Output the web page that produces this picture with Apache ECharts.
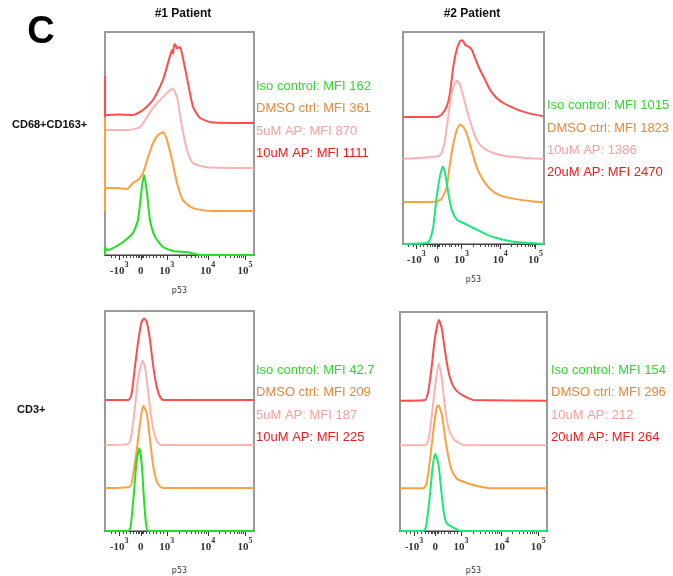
<!DOCTYPE html>
<html>
<head>
<meta charset="utf-8">
<script src="https://cdn.jsdelivr.net/npm/echarts@6/dist/echarts.min.js"></script>
<style>
  html, body { margin: 0; padding: 0; background: #fff; }
  #fig { width: 673px; height: 576px; }
</style>
</head>
<body>
<div id="fig"></div>
<script>
// logicle-like display scale: 0..100 along the axis
var majorTicks = [9.5, 24, 41.5, 69, 94];
var tickBase = ['-10', '0', '10', '10', '10'];
var tickExp = ['3', '', '3', '4', '5'];
var minorTicks = [4, 7, 12, 14.5, 17, 19, 21, 22, 23, 25, 26, 28, 30, 32.5, 34.5, 37, 39,
  49.8, 54.6, 58, 60.7, 62.9, 64.7, 66.3, 67.7, 76.5, 80.9, 84, 86.5, 88.5, 90.1, 91.6, 92.9];

var sampleNames = ['Iso control', 'DMSO ctrl', 'low AP', 'high AP'];

// legend texts per panel
var p1Labels = ['Iso control: MFI 162', 'DMSO ctrl: MFI 361', '5uM AP: MFI 870', '10uM AP: MFI 1111'];
var p2Labels = ['Iso control: MFI 1015', 'DMSO ctrl: MFI 1823', '10uM AP: 1386', '20uM AP: MFI 2470'];
var p3Labels = ['Iso control: MFI 42.7', 'DMSO ctrl: MFI 209', '5uM AP: MFI 187', '10uM AP: MFI 225'];
var p4Labels = ['Iso control: MFI 154', 'DMSO ctrl: MFI 296', '10uM AP: 212', '20uM AP: MFI 264'];

// histograms: [p53 display position, relative count]
var p1Green = [[0,0],[0,3.6],[1.3,2.2],[5.4,3.1],[12.1,5.8],[18.8,9.9],[22.1,15.7],[24.8,30.5],[26.2,35.9],[28.2,27.8],[30.2,15.7],[33.6,8.1],[38.9,3.6],[45.6,1.8],[55,1.3],[63.8,0],[100,0]];
var p1Orange = [[0,0],[0,42.2],[0.7,10.3],[8.1,10.3],[14.8,9.9],[18.8,12.6],[22.1,13.9],[25.5,17],[28.9,24.2],[32.2,30.5],[35.6,34.1],[38.9,35.4],[41.6,31.8],[45,22.9],[48.3,12.6],[52.3,4.9],[59.1,1.3],[72.5,0],[100,0]];
var p1Pink = [[0,0],[0,22],[0.7,17],[14.8,17],[23.5,18.4],[30.2,25.1],[34.9,29.1],[38.9,31.8],[42.3,34.1],[45.6,35.4],[48.3,31.8],[51.7,18.4],[55,8.1],[59.1,2.2],[68.5,0.4],[100,0]];
var p1Red = [[0,0],[0,21.1],[0.7,3.6],[10,3.8],[18.8,3.6],[25.5,5.8],[32.2,10.3],[38.9,19.3],[42.3,26.9],[45,32.7],[45.6,31],[46.3,34.5],[47,35.4],[48.3,33.5],[50.3,34.1],[52.3,29.1],[55.7,17.9],[59.1,7.2],[63.8,2.2],[72.5,0.2],[100,0]];

var p2Green = [[0,0],[16.8,0.5],[19.1,2],[21.5,8.3],[23.9,22.5],[26.2,31.9],[28.1,36.6],[29.8,33.5],[32.1,24.1],[34.5,16.2],[38.1,11.5],[42.8,9.9],[47.5,8.3],[52.2,6.8],[59.3,4.4],[66.4,2.8],[73.5,1.7],[83,0.8],[100,0]];
var p2Orange = [[0,0],[23.9,0.3],[27.4,1.6],[31,7.1],[33.3,18.1],[35.7,27.5],[38.1,33.8],[40.4,36.6],[42.8,35.4],[45.2,32.2],[48.7,24.4],[52.2,16.5],[57,10.2],[61.7,6.3],[68.8,3.1],[78.3,1.6],[92.5,0.3],[100,0]];
var p2Pink = [[0,0],[25,1.3],[27.4,2.8],[29.8,9.1],[32.1,20.1],[34.5,31.1],[36.9,35.8],[38.5,36.9],[40.4,35.1],[42.8,29.6],[45.2,23.3],[48.7,15.4],[52.2,9.1],[57,5.2],[64.1,2.8],[73.5,1.3],[87.7,0.5],[100,0]];
var p2Red = [[0,0],[23.9,0],[27.4,1.1],[31,5],[33.3,11.3],[35.7,23.9],[38.1,31.8],[40.4,35.7],[42.3,36.2],[44,34.1],[46.3,33.3],[48.7,31.8],[51.1,27.8],[54.6,22.3],[58.2,17.6],[61.7,12.9],[66.4,9],[71.2,6.6],[75.9,5],[83,3],[90.1,1.6],[100,0.3]];

var p3Green = [[0,0],[15.7,0],[17.2,2],[19,14.1],[21.3,32.3],[23,37.6],[24.6,30.8],[26.2,14.1],[27.5,3.5],[29.1,0],[100,0]];
var p3Orange = [[0,0],[16.8,0.8],[19,6.8],[21.3,17.4],[23.5,29.5],[25.7,37.4],[28,34.1],[30.2,22],[32.4,9.8],[34.7,3],[36.9,0.8],[39.1,0],[100,0]];
var p3Pink = [[0,0],[15.7,0.5],[17.9,5.3],[20.1,17.4],[22.4,31.1],[25.3,38.3],[26.8,35.6],[29.1,23.5],[31.3,11.4],[33.6,3.8],[35.8,0.8],[38,0],[100,0]];
var p3Red = [[0,0],[15.7,0],[17.9,3],[20.1,15.2],[22.4,27.3],[24.6,35.6],[26.2,37.1],[28,35.6],[30.2,27.3],[32.4,15.2],[34.7,6.1],[36.9,1.5],[39.1,0],[100,0]];

var p4Green = [[0,0],[15.9,0],[17.7,2],[20,14.1],[22.2,29.2],[23.8,35.3],[26.1,30.8],[28.3,17.1],[29.9,8],[31.7,3.5],[35.1,2],[38.5,0.8],[40.8,0],[100,0]];
var p4Orange = [[0,0],[15.9,0],[18.1,2.3],[20.4,12.9],[22.7,26.5],[25,37.1],[26.1,37.9],[28.3,34.1],[30.6,23.5],[32.9,14.4],[35.1,8.3],[38.5,4.5],[43.1,3],[49.9,1.5],[56.7,0.5],[61.2,0],[100,0]];
var p4Pink = [[0,0],[17,0],[19.3,2.3],[21.5,12.9],[23.8,26.5],[26.3,37.4],[28.3,31.1],[30.6,17.4],[32.9,8.3],[36.3,3],[40.8,0.8],[45.4,0],[100,0]];
var p4Red = [[0,0],[17,0.3],[19.3,4.5],[21.5,15.2],[23.8,28.8],[26.5,36.8],[28.3,33.3],[30.6,22.7],[32.9,13.6],[35.1,8.3],[38.5,4.5],[43.1,2.3],[47.6,0.8],[49.9,0.3],[100,0]];

// panel layout (pixels) and styling
var panels = [
  { box: [105, 32, 149, 223], curves: [p1Green, p1Orange, p1Pink, p1Red], offs: [0, 19.7, 39, 59.2],
    green: '#22e022', labels: p1Labels, lx: 256, ly: [86, 108, 131, 153], nameGap: 32 },
  { box: [403, 32, 141, 212], curves: [p2Green, p2Orange, p2Pink, p2Red], offs: [0, 19.8, 40.1, 59.9],
    green: '#1be87a', labels: p2Labels, lx: 547, ly: [105, 128, 150, 172], nameGap: 32 },
  { box: [105, 311, 149, 220], curves: [p3Green, p3Orange, p3Pink, p3Red], offs: [0, 19.5, 39.1, 59.5],
    green: '#22e022', labels: p3Labels, lx: 256, ly: [370, 392, 415, 437], nameGap: 36 },
  { box: [400, 312, 147, 219], curves: [p4Green, p4Orange, p4Pink, p4Red], offs: [0, 19.5, 39.1, 59.5],
    green: '#1be87a', labels: p4Labels, lx: 551, ly: [370, 392, 415, 437], nameGap: 36 }
];
var lineColors = [null, '#ffa040', '#ffb2b2', '#ff4d4d'];
var textColors = ['#33d633', '#e8883a', '#f2a0a0', '#ee1c1c'];
var textFont = '13px "Liberation Sans Narrow", "Liberation Sans", sans-serif';

var grids = [], xAxes = [], yAxes = [], series = [], graphics = [];

panels.forEach(function (p, i) {
  grids.push({
    left: p.box[0], top: p.box[1], width: p.box[2], height: p.box[3],
    show: true, borderColor: '#9a9a9a', borderWidth: 2, backgroundColor: 'transparent'
  });
  // main axis: major ticks + labels
  xAxes.push({
    type: 'value', gridIndex: i, min: 0, max: 100, position: 'bottom',
    name: 'p53', nameLocation: 'middle', nameGap: p.nameGap,
    nameTextStyle: { fontSize: 8, color: '#333', fontFamily: 'DejaVu Sans' },
    splitLine: { show: false },
    axisLine: { show: true, lineStyle: { color: '#444', width: 1 } },
    axisTick: { show: true, customValues: majorTicks, length: 5, lineStyle: { color: '#333' } },
    axisLabel: {
      customValues: majorTicks, margin: 6,
      formatter: function (v) {
        var k = majorTicks.indexOf(v);
        if (k < 0) return '';
        return tickExp[k] ? '{b|' + tickBase[k] + '}{s|' + tickExp[k] + '}' : '{b|' + tickBase[k] + '}';
      },
      rich: {
        b: { fontFamily: 'Liberation Serif', fontWeight: 'bold', fontSize: 11, color: '#333', lineHeight: 16, verticalAlign: 'bottom' },
        s: { fontFamily: 'Liberation Serif', fontWeight: 'bold', fontSize: 8, color: '#333', lineHeight: 9, verticalAlign: 'top' }
      }
    }
  });
  // overlay axis: minor ticks only
  xAxes.push({
    type: 'value', gridIndex: i, min: 0, max: 100, position: 'bottom',
    splitLine: { show: false }, axisLine: { show: false }, axisLabel: { show: false },
    axisTick: { show: true, customValues: minorTicks, length: 3, lineStyle: { color: '#444' } }
  });
  yAxes.push({ type: 'value', gridIndex: i, min: 0, max: 100, show: false });

  // back to front: red, pink, orange, green
  [3, 2, 1, 0].forEach(function (c) {
    var off = p.offs[c];
    series.push({
      type: 'line', name: sampleNames[c], xAxisIndex: i * 2, yAxisIndex: i,
      data: p.curves[c].map(function (pt) { return [pt[0], pt[1] + off]; }),
      showSymbol: false, smooth: 0.2, clip: false,
      lineStyle: { color: c === 0 ? p.green : lineColors[c], width: 2 }
    });
  });

  p.labels.forEach(function (t, k) {
    graphics.push({ type: 'text', x: p.lx, y: p.ly[k],
      style: { text: t, fill: textColors[k], font: textFont, align: 'left', verticalAlign: 'middle' } });
  });
});

graphics.push(
  { type: 'text', x: 41, y: 33, style: { text: 'C', fill: '#000', font: 'bold 38px "Liberation Sans", Arial', align: 'center', verticalAlign: 'middle' } },
  { type: 'text', x: 183, y: 14, style: { text: '#1 Patient', fill: '#111', font: 'bold 12px "Liberation Sans Narrow", "Liberation Sans"', align: 'center', verticalAlign: 'middle' } },
  { type: 'text', x: 472, y: 14, style: { text: '#2 Patient', fill: '#111', font: 'bold 12px "Liberation Sans Narrow", "Liberation Sans"', align: 'center', verticalAlign: 'middle' } },
  { type: 'text', x: 12, y: 125, style: { text: 'CD68+CD163+', fill: '#111', font: 'bold 11px "Liberation Sans Narrow", "Liberation Sans"', align: 'left', verticalAlign: 'middle' } },
  { type: 'text', x: 17, y: 410, style: { text: 'CD3+', fill: '#111', font: 'bold 11px "Liberation Sans Narrow", "Liberation Sans"', align: 'left', verticalAlign: 'middle' } }
);

var myChart = echarts.init(document.getElementById('fig'));
myChart.setOption({
  animation: false,
  grid: grids,
  xAxis: xAxes,
  yAxis: yAxes,
  series: series,
  graphic: graphics
});
</script>
</body>
</html>
